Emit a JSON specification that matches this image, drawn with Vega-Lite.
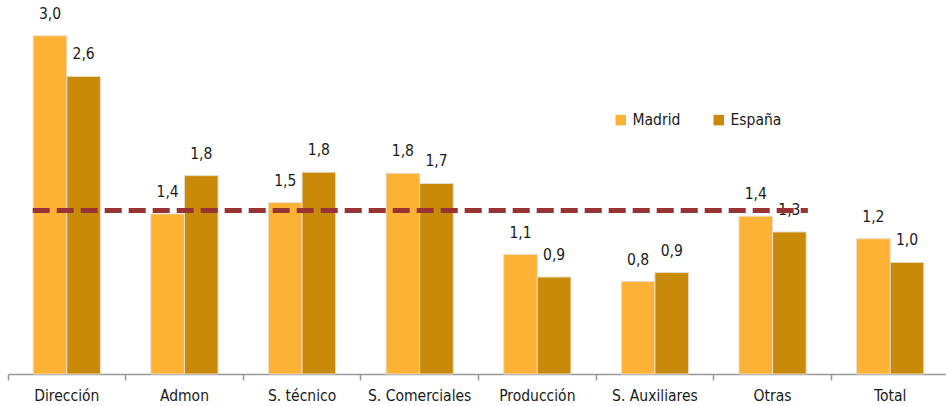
{
  "$schema": "https://vega.github.io/schema/vega-lite/v6.json",
  "autosize": {"type": "none"},
  "width": 941,
  "height": 372,
  "padding": {"left": 8, "top": 2, "right": 0, "bottom": 32},
  "background": "white",
  "config": {
    "view": {"stroke": null},
    "locale": {"number": {"decimal": ",", "thousands": ".", "grouping": [3], "currency": ["", " €"]}},
    "font": "Liberation Sans Narrow, DejaVu Sans Condensed, sans-serif"
  },
  "layer": [
    {
      "data": {"values": [
        {"cat": "Dirección", "zona": "Madrid", "v": 3.0},
        {"cat": "Dirección", "zona": "España", "v": 2.64},
        {"cat": "Admon", "zona": "Madrid", "v": 1.42},
        {"cat": "Admon", "zona": "España", "v": 1.76},
        {"cat": "S. técnico", "zona": "Madrid", "v": 1.52},
        {"cat": "S. técnico", "zona": "España", "v": 1.79},
        {"cat": "S. Comerciales", "zona": "Madrid", "v": 1.78},
        {"cat": "S. Comerciales", "zona": "España", "v": 1.69},
        {"cat": "Producción", "zona": "Madrid", "v": 1.06},
        {"cat": "Producción", "zona": "España", "v": 0.86},
        {"cat": "S. Auxiliares", "zona": "Madrid", "v": 0.82},
        {"cat": "S. Auxiliares", "zona": "España", "v": 0.9},
        {"cat": "Otras", "zona": "Madrid", "v": 1.4},
        {"cat": "Otras", "zona": "España", "v": 1.26},
        {"cat": "Total", "zona": "Madrid", "v": 1.2},
        {"cat": "Total", "zona": "España", "v": 0.99}
      ]},
      "encoding": {
        "x": {
          "field": "cat", "type": "nominal",
          "scale": {"domain": ["Dirección", "Admon", "S. técnico", "S. Comerciales", "Producción", "S. Auxiliares", "Otras", "Total"], "paddingInner": 0, "paddingOuter": 0},
          "axis": {
            "title": null, "labelAngle": 0, "bandPosition": 0,
            "domainColor": "#999999", "domainWidth": 1.5,
            "tickColor": "#999999", "tickWidth": 1.5, "tickSize": 6,
            "labelFontSize": 15.5, "labelColor": "#1a1a1a", "labelPadding": 8,
            "labelFont": "Liberation Sans Narrow, DejaVu Sans Condensed, sans-serif",
            "labelFlush": false
          }
        },
        "xOffset": {
          "field": "zona", "type": "nominal", "sort": ["Madrid", "España"],
          "scale": {"paddingInner": 0, "paddingOuter": 0.75}
        },
        "y": {
          "field": "v", "type": "quantitative",
          "scale": {"domain": [0, 3.3], "nice": false, "zero": true},
          "axis": null
        }
      },
      "layer": [
        {
          "mark": {"type": "bar", "stroke": "#e6dcc8", "strokeWidth": 1},
          "encoding": {
            "color": {
              "field": "zona", "type": "nominal",
              "scale": {"domain": ["Madrid", "España"], "range": ["#FDB235", "#CA8A09"]},
              "legend": {
                "title": null, "orient": "none", "direction": "horizontal",
                "legendX": 605, "legendY": 110,
                "symbolType": "square", "symbolSize": 110, "symbolStrokeWidth": 0,
                "labelFontSize": 15.5, "labelColor": "#1a1a1a", "columnPadding": 30,
                "labelFont": "Liberation Sans Narrow, DejaVu Sans Condensed, sans-serif"
              }
            }
          }
        },
        {
          "mark": {"type": "text", "baseline": "bottom", "dy": -14, "fontSize": 15.5, "color": "#1a1a1a"},
          "encoding": {
            "text": {"field": "v", "type": "quantitative", "format": ".1f"}
          }
        }
      ]
    },
    {
      "data": {"values": [{"desde": "Dirección", "hasta": "Otras", "ref": 1.45}]},
      "mark": {"type": "rule", "color": "#993333", "strokeWidth": 5, "strokeDash": [17, 7]},
      "encoding": {
        "x": {"field": "desde", "type": "nominal", "bandPosition": 0.21,
          "scale": {"domain": ["Dirección", "Admon", "S. técnico", "S. Comerciales", "Producción", "S. Auxiliares", "Otras", "Total"]}},
        "x2": {"field": "hasta", "bandPosition": 0.8},
        "y": {"field": "ref", "type": "quantitative"}
      }
    }
  ]
}
